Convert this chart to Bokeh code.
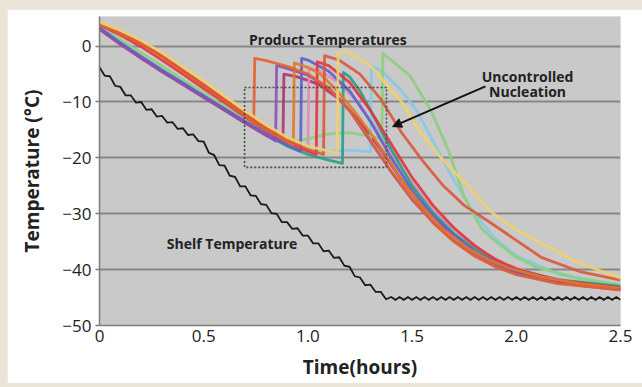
from bokeh.plotting import figure
from bokeh.models import Range1d, FixedTicker, Label, Arrow, NormalHead
from bokeh.embed import file_html
from bokeh.resources import INLINE

# ---------------- data ----------------
x_ticks = [0, 0.5, 1.0, 1.5, 2.0, 2.5]
x_tick_labels = ["0", "0.5", "1.0", "1.5", "2.0", "2.5"]
y_ticks = [0, -10, -20, -30, -40, -50]
y_tick_labels = ["0", "\u221210", "\u221220", "\u221230", "\u221240", "\u221250"]

shelf_t = [0.000, 0.025, 0.050, 0.075, 0.100, 0.125, 0.150, 0.175, 0.200, 0.225,
           0.250, 0.275, 0.300, 0.325, 0.350, 0.375, 0.400, 0.425, 0.450, 0.475,
           0.500, 0.525, 0.550, 0.575, 0.600, 0.625, 0.650, 0.675, 0.700, 0.725,
           0.750, 0.775, 0.800, 0.825, 0.850, 0.875, 0.900, 0.925, 0.950, 0.975,
           1.000, 1.025, 1.050, 1.075, 1.100, 1.125, 1.150, 1.175, 1.200, 1.225,
           1.250, 1.275, 1.300, 1.325, 1.350, 1.375, 1.400,
           1.42, 1.44, 1.46, 1.48, 1.50, 1.52, 1.54, 1.56, 1.58, 1.60,
           1.62, 1.64, 1.66, 1.68, 1.70, 1.72, 1.74, 1.76, 1.78, 1.80,
           1.82, 1.84, 1.86, 1.88, 1.90, 1.92, 1.94, 1.96, 1.98, 2.00,
           2.02, 2.04, 2.06, 2.08, 2.10, 2.12, 2.14, 2.16, 2.18, 2.20,
           2.22, 2.24, 2.26, 2.28, 2.30, 2.32, 2.34, 2.36, 2.38, 2.40,
           2.42, 2.44, 2.46, 2.48, 2.50]
shelf_T = [-3.8, -5.3, -5.4, -7.1, -7.3, -8.8, -8.8, -10.1, -10.0, -11.4,
           -11.3, -12.6, -12.5, -13.7, -13.6, -14.8, -14.7, -15.9, -15.8, -17.0,
           -17.1, -19.1, -19.5, -21.3, -21.4, -23.2, -23.4, -25.1, -25.1, -26.7,
           -26.8, -28.3, -28.4, -29.9, -30.0, -31.5, -31.5, -32.7, -32.6, -33.9,
           -33.9, -35.3, -35.3, -36.7, -36.6, -37.9, -37.8, -39.3, -39.5, -41.2,
           -41.4, -42.8, -42.7, -44.0, -44.0, -45.3, -44.9,
           -45.4, -44.9, -45.4, -44.9, -45.4, -44.9, -45.4, -44.9, -45.4, -44.9,
           -45.4, -44.9, -45.4, -44.9, -45.4, -44.9, -45.4, -44.9, -45.4, -44.9,
           -45.4, -44.9, -45.4, -44.9, -45.4, -44.9, -45.4, -44.9, -45.4, -44.9,
           -45.4, -44.9, -45.4, -44.9, -45.4, -44.9, -45.4, -44.9, -45.4, -44.9,
           -45.4, -44.9, -45.4, -44.9, -45.4, -44.9, -45.4, -44.9, -45.4, -44.9,
           -45.4, -44.9, -45.4, -44.9, -45.4]

magenta_t = [0, 0.1, 0.2, 0.3, 0.4, 0.5, 0.6, 0.7, 0.8, 0.88, 0.885, 0.95, 1.05, 1.15, 1.25, 1.35, 1.45, 1.55, 1.65, 1.75, 1.85, 1.95, 2.1, 2.3, 2.5]
magenta_T = [3.0, 0.3, -2.2, -4.6, -6.9, -9.2, -11.5, -13.8, -16.0, -17.4, -5.0, -5.5, -6.8, -9.5, -13.5, -18.5, -24.0, -28.8, -32.5, -35.5, -38.0, -39.8, -41.5, -42.8, -43.6]

pink_t = [0, 0.1, 0.2, 0.3, 0.4, 0.5, 0.6, 0.7, 0.8, 0.9, 1.0, 1.005, 1.05, 1.15, 1.25, 1.35, 1.45, 1.55, 1.65, 1.75, 1.85, 1.95, 2.1, 2.3, 2.5]
pink_T = [3.3, 0.6, -1.9, -4.3, -6.6, -8.9, -11.2, -13.5, -15.7, -17.7, -19.0, -4.0, -4.3, -6.5, -10.5, -16.0, -22.0, -27.0, -31.0, -34.3, -37.0, -39.0, -41.0, -42.4, -43.2]

cyan_t = [0, 0.1, 0.2, 0.3, 0.4, 0.5, 0.6, 0.7, 0.8, 0.9, 1.0, 1.1, 1.2, 1.3, 1.305, 1.35, 1.45, 1.53, 1.6, 1.7, 1.8, 1.9, 2.0, 2.2, 2.5]
cyan_T = [3.4, 0.7, -1.8, -4.2, -6.5, -8.8, -11.1, -13.4, -15.6, -17.4, -18.5, -18.8, -18.6, -18.9, -3.5, -4.3, -8.0, -12.0, -17.0, -24.0, -30.0, -34.5, -37.5, -40.8, -42.8]

teal_t = [0, 0.1, 0.2, 0.3, 0.4, 0.5, 0.6, 0.7, 0.8, 0.9, 1.0, 1.1, 1.166, 1.17, 1.2, 1.25, 1.3, 1.4, 1.5, 1.6, 1.7, 1.8, 1.9, 2.0, 2.2, 2.5]
teal_T = [3.2, 0.5, -2.0, -4.4, -6.7, -9.0, -11.3, -13.6, -15.8, -17.9, -19.4, -20.4, -21.0, -4.7, -5.5, -8.0, -11.5, -18.5, -25.0, -29.8, -33.5, -36.3, -38.5, -40.0, -41.8, -43.0]

green_t = [0, 0.1, 0.2, 0.3, 0.4, 0.5, 0.6, 0.7, 0.8, 0.9, 0.95, 1.0, 1.1, 1.2, 1.3, 1.355, 1.36, 1.4, 1.49, 1.59, 1.675, 1.75, 1.83, 1.88, 2.0, 2.1, 2.3, 2.5]
green_T = [3.6, 1.2, -1.2, -3.6, -6.0, -8.4, -10.8, -13.2, -15.2, -16.5, -16.9, -16.6, -15.7, -15.5, -16.1, -16.6, -1.3, -2.5, -5.3, -11.5, -18.7, -27.0, -32.5, -34.3, -37.8, -39.6, -41.6, -42.7]

blue_t = [0, 0.1, 0.2, 0.3, 0.4, 0.5, 0.6, 0.7, 0.8, 0.9, 0.965, 0.97, 1.0, 1.1, 1.2, 1.3, 1.4, 1.5, 1.6, 1.7, 1.8, 1.9, 2.0, 2.2, 2.5]
blue_T = [3.3, 0.6, -1.9, -4.3, -6.6, -8.9, -11.2, -13.5, -15.7, -17.7, -18.8, -2.2, -2.5, -4.5, -8.0, -13.5, -20.0, -25.8, -30.3, -33.8, -36.7, -38.8, -40.3, -42.0, -43.2]

purple_t = [0, 0.1, 0.2, 0.3, 0.4, 0.5, 0.6, 0.7, 0.8, 0.845, 0.85, 0.9, 1.0, 1.1, 1.2, 1.3, 1.4, 1.5, 1.6, 1.7, 1.8, 1.9, 2.0, 2.2, 2.5]
purple_T = [3.1, 0.4, -2.1, -4.5, -6.8, -9.1, -11.4, -13.7, -15.9, -17.0, -3.5, -4.0, -5.2, -7.5, -11.5, -17.0, -22.5, -27.5, -31.5, -34.8, -37.4, -39.4, -40.8, -42.4, -43.5]

red_t = [0, 0.1, 0.2, 0.3, 0.4, 0.5, 0.6, 0.7, 0.8, 0.9, 1.0, 1.04, 1.045, 1.1, 1.2, 1.3, 1.4, 1.5, 1.6, 1.7, 1.8, 1.9, 2.0, 2.2, 2.5]
red_T = [3.8, 2.0, -0.1, -2.5, -5.0, -7.6, -10.1, -12.7, -15.1, -17.2, -18.8, -19.4, -2.8, -3.5, -6.5, -11.5, -17.5, -23.5, -28.5, -32.5, -35.7, -38.2, -39.9, -41.9, -43.3]

darkorange_t = [0, 0.1, 0.2, 0.3, 0.4, 0.5, 0.6, 0.7, 0.8, 0.9, 0.93, 0.935, 1.0, 1.06, 1.14, 1.22, 1.3, 1.38, 1.46, 1.555, 1.65, 1.77, 1.87, 1.97, 2.12, 2.3, 2.5]
darkorange_T = [3.9, 2.3, 0.4, -1.9, -4.5, -7.1, -9.7, -12.4, -14.9, -17.0, -17.6, -3.0, -3.8, -5.0, -8.0, -11.5, -15.5, -19.8, -24.5, -29.0, -32.8, -36.2, -38.3, -39.8, -41.3, -42.5, -43.3]

orangered_t = [0, 0.1, 0.2, 0.3, 0.4, 0.5, 0.6, 0.7, 0.74, 0.745, 0.8, 0.9, 1.0, 1.1, 1.2, 1.3, 1.4, 1.5, 1.6, 1.7, 1.8, 1.9, 2.0, 2.2, 2.5]
orangered_T = [4.1, 2.5, 0.6, -1.7, -4.3, -6.9, -9.6, -12.4, -13.9, -2.2, -2.6, -3.6, -5.0, -7.5, -11.5, -16.8, -22.5, -27.3, -31.6, -35.0, -37.6, -39.5, -40.9, -42.5, -43.6]

lateorange_t = [0, 0.1, 0.2, 0.3, 0.4, 0.5, 0.6, 0.7, 0.8, 0.9, 1.0, 1.075, 1.08, 1.15, 1.25, 1.35, 1.45, 1.55, 1.65, 1.75, 1.88, 1.97, 2.12, 2.3, 2.5]
lateorange_T = [4.0, 2.4, 0.5, -1.8, -4.4, -7.0, -9.6, -12.2, -14.7, -16.8, -18.5, -19.4, -1.7, -2.5, -5.0, -9.5, -15.5, -20.5, -25.0, -28.5, -31.7, -34.0, -37.8, -40.3, -41.9]

yellow_t = [0, 0.1, 0.2, 0.3, 0.4, 0.5, 0.6, 0.7, 0.8, 0.9, 1.0, 1.1, 1.14, 1.145, 1.18, 1.3, 1.45, 1.54, 1.65, 1.78, 1.88, 2.0, 2.12, 2.3, 2.5]
yellow_T = [4.3, 2.8, 1.0, -1.2, -3.7, -6.2, -8.9, -11.6, -14.1, -16.3, -17.9, -18.8, -19.0, -1.2, -0.9, -3.5, -10.0, -15.4, -20.5, -25.5, -29.7, -32.8, -35.3, -38.8, -41.5]

box_left = [0.696]
box_right = [1.377]
box_top = [-7.4]
box_bottom = [-21.7]

# ---------------- figure ----------------
FONT = "Open Sans"

p = figure(width=635, height=374, output_backend="svg", toolbar_location=None,
           x_range=Range1d(0, 2.5), y_range=Range1d(-50, 5.3),
           min_border_left=92, min_border_right=22, min_border_top=7,
           min_border_bottom=58)
p.background_fill_color = "#c9c9c9"
p.border_fill_color = "white"
p.outline_line_color = None

p.xgrid.grid_line_color = None
p.ygrid.grid_line_color = "#878787"
p.ygrid.grid_line_width = 2
p.ygrid.ticker = FixedTicker(ticks=y_ticks)

p.xaxis.ticker = FixedTicker(ticks=x_ticks)
p.yaxis.ticker = FixedTicker(ticks=y_ticks)
p.xaxis.major_label_overrides = {t: l for t, l in zip(x_ticks, x_tick_labels)}
p.yaxis.major_label_overrides = {t: l for t, l in zip(y_ticks, y_tick_labels)}
for ax in (p.xaxis, p.yaxis):
    ax.axis_line_color = "#7c7c7c"
    ax.axis_line_width = 1.5
    ax.major_tick_line_color = "#7c7c7c"
    ax.major_tick_line_width = 1.5
    ax.major_tick_in = 0
    ax.major_tick_out = 4
    ax.minor_tick_line_color = None
    ax.major_label_text_font = FONT
    ax.major_label_text_font_size = "17px"
    ax.major_label_text_color = "#222222"
    ax.axis_label_text_font = FONT
    ax.axis_label_text_font_size = "19px"
    ax.axis_label_text_font_style = "bold"
    ax.axis_label_text_color = "#222222"
p.xaxis.major_tick_out = 0
p.xaxis.major_label_standoff = 4
p.yaxis.major_label_standoff = 4
p.xaxis.axis_label = "Time(hours)"
p.yaxis.axis_label = "Temperature (\u00b0C)"
p.xaxis.axis_label_standoff = 9
p.yaxis.axis_label_standoff = 14

# product temperature curves
curves = [
    (magenta_t, magenta_T, "#b2336e"),
    (pink_t, pink_T, "#e08cb6"),
    (cyan_t, cyan_T, "#86c9e4"),
    (green_t, green_T, "#8ccf7c"),
    (teal_t, teal_T, "#2a9f86"),
    (blue_t, blue_T, "#5a62cc"),
    (purple_t, purple_T, "#8b52b5"),
    (red_t, red_T, "#e3343f"),
    (darkorange_t, darkorange_T, "#e07a2a"),
    (orangered_t, orangered_T, "#e5612f"),
    (lateorange_t, lateorange_T, "#d9583a"),
    (yellow_t, yellow_T, "#f0d06c"),
]
for t, T, c in curves:
    p.line(t, T, line_color=c, line_width=2.8, line_alpha=0.9, line_join="round")

# shelf temperature
p.line(shelf_t, shelf_T, line_color="#1a1a1a", line_width=1.8, line_join="miter")

# dotted box
p.quad(left=box_left, right=box_right, top=box_top, bottom=box_bottom,
       fill_alpha=0, line_color="#4a4a4a", line_width=1.6, line_dash="2 2")

# arrow
p.add_layout(Arrow(end=NormalHead(size=9, fill_color="#111111", line_color="#111111"),
                   x_start=1.852, y_start=-7.2, x_end=1.406, y_end=-14.4,
                   line_color="#111111", line_width=2))

def lbl(x, y, text, size):
    p.add_layout(Label(x=x, y=y, text=text, text_font=FONT,
                       text_font_size=size, text_font_style="bold",
                       text_align="center", text_baseline="middle",
                       text_color="#222222"))

lbl(1.096, 1.16, "Product Temperatures", "14px")
lbl(2.054, -5.45, "Uncontrolled", "14px")
lbl(2.054, -8.1, "Nucleation", "14px")
lbl(0.636, -35.4, "Shelf Temperature", "14px")

html = file_html(p, INLINE)
style = ("<style>html, body { background-color: #ebe4d8 !important; }"
         " body { margin: 9px 0 0 7px !important; }</style>")
html = html.replace("</head>", style + "</head>", 1)
open("out.html", "w").write(html)
